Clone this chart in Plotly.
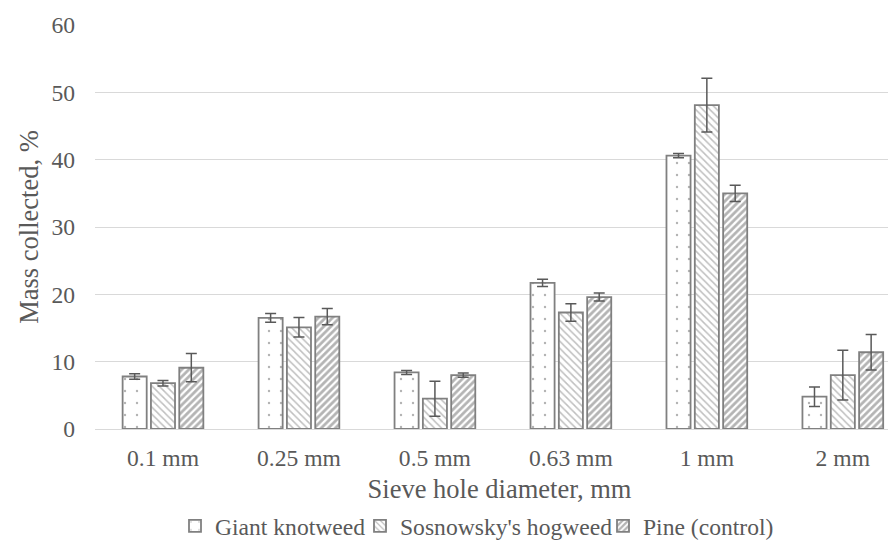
import plotly.graph_objects as go

categories = ["0.1 mm", "0.25 mm", "0.5 mm", "0.63 mm", "1 mm", "2 mm"]
giant = [7.8, 16.5, 8.4, 21.7, 40.6, 4.8]
giant_err = [0.4, 0.65, 0.3, 0.55, 0.3, 1.45]
sosn = [6.8, 15.1, 4.5, 17.3, 48.1, 8.0]
sosn_err = [0.4, 1.45, 2.6, 1.3, 4.0, 3.7]
pine = [9.1, 16.7, 8.0, 19.6, 35.0, 11.4]
pine_err = [2.1, 1.2, 0.3, 0.6, 1.2, 2.65]
series_names = ["Giant knotweed", "Sosnowsky's hogweed", "Pine (control)"]

font = "Liberation Serif"
txt = "#595959"
edge = "#808080"

def bar(name, y, err, shape, size, solidity, fg, legend):
    return go.Bar(
        name=name, x=categories, y=y, legend=legend, showlegend=True,
        marker=dict(color="white", line=dict(color=edge, width=1.8),
                    pattern=dict(shape=shape, size=size, solidity=solidity,
                                 fgcolor=fg, bgcolor="white", fillmode="overlay")),
        error_y=dict(type="data", array=err, visible=True, color=txt,
                     thickness=1.5, width=5.5),
    )

fig = go.Figure([
    bar(series_names[0], giant, giant_err, ".", 12, 0.03, "#666666", "legend"),
    bar(series_names[1], sosn, sosn_err, "\\", 5, 0.3, "#808080", "legend2"),
    bar(series_names[2], pine, pine_err, "/", 5, 0.55, "#6a6a6a", "legend3"),
])

leg_y = (549 - 518) / 549
def leg(x_px):
    return dict(orientation="h", xref="container", yref="container",
                x=x_px / 896, xanchor="left", y=leg_y, yanchor="middle",
                font=dict(family=font, size=23.6, color=txt), itemwidth=30,
                itemclick=False, bgcolor="rgba(0,0,0,0)")

fig.update_layout(
    width=896, height=549,
    margin=dict(l=87, r=0, t=17, b=128, autoexpand=False),
    paper_bgcolor="white", plot_bgcolor="white", showlegend=True,
    barmode="group", bargap=0.375, bargroupgap=0.15,
    font=dict(family=font, color=txt, size=24),
    legend=leg(167), legend2=leg(352), legend3=leg(595),
    xaxis=dict(range=[-0.5, 5.45], showgrid=False, showline=True, automargin=False,
               linecolor="#d9d9d9", linewidth=1, ticks="", ticklabelstandoff=8,
               tickfont=dict(family=font, size=23.6, color=txt),
               title=dict(text="Sieve hole diameter, mm",
                          font=dict(family=font, size=26.5, color=txt), standoff=14)),
    yaxis=dict(range=[0, 60], dtick=10, showgrid=True, gridcolor="#d9d9d9", automargin=False,
               gridwidth=1, zeroline=False, showline=False, ticks="",
               tickfont=dict(family=font, size=23.6, color=txt), ticklabelstandoff=19,
               title=dict(text="Mass collected, %",
                          font=dict(family=font, size=26.5, color=txt), standoff=5)),
)

fig.write_html("out.html")
